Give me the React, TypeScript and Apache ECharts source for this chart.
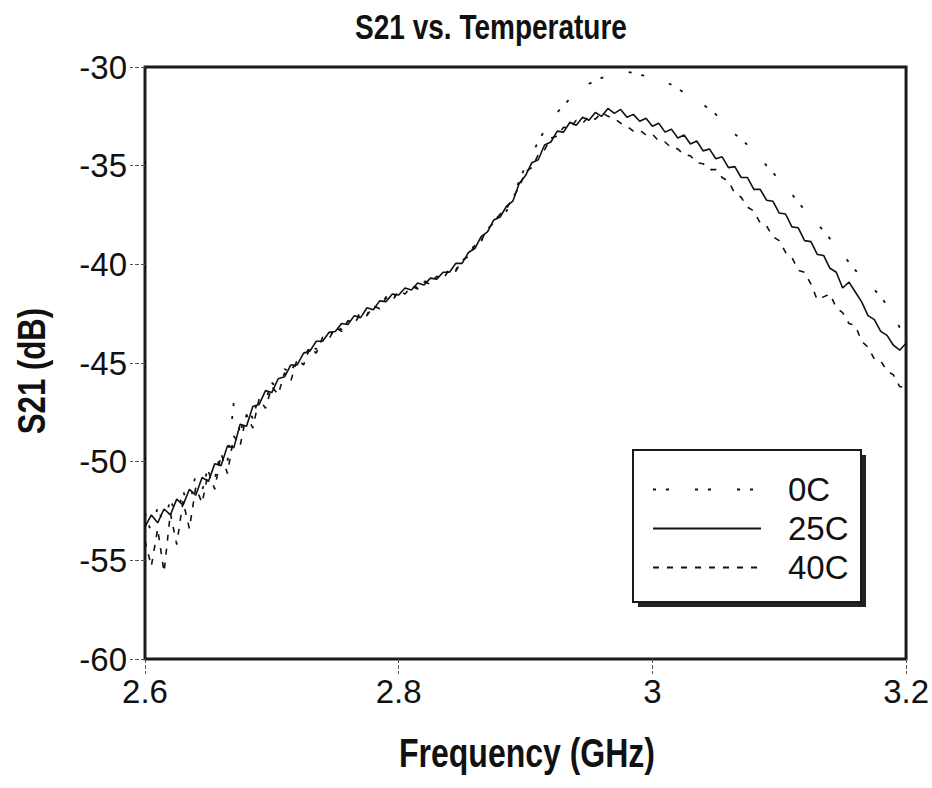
import React, { useEffect, useRef } from "react";
import * as echarts from "echarts";

const TITLE = "S21 vs. Temperature";
const X_NAME = "Frequency (GHz)";
const Y_NAME = "S21 (dB)";
const SERIES_NAMES = ["0C", "25C", "40C"];

const FREQ = [
  2.6, 2.605, 2.61, 2.615, 2.62, 2.625, 2.63, 2.635, 2.64, 2.645,
  2.65, 2.655, 2.66, 2.665, 2.67, 2.675, 2.68, 2.685, 2.69, 2.695,
  2.7, 2.705, 2.71, 2.715, 2.72, 2.725, 2.73, 2.735, 2.74, 2.745,
  2.75, 2.755, 2.76, 2.765, 2.77, 2.775, 2.78, 2.785, 2.79, 2.795,
  2.8, 2.805, 2.81, 2.815, 2.82, 2.825, 2.83, 2.835, 2.84, 2.845,
  2.85, 2.855, 2.86, 2.865, 2.87, 2.875, 2.88, 2.885, 2.89, 2.895,
  2.9, 2.905, 2.91, 2.915, 2.92, 2.925, 2.93, 2.935, 2.94, 2.945,
  2.95, 2.955, 2.96, 2.965, 2.97, 2.975, 2.98, 2.985, 2.99, 2.995,
  3.0, 3.005, 3.01, 3.015, 3.02, 3.025, 3.03, 3.035, 3.04, 3.045,
  3.05, 3.055, 3.06, 3.065, 3.07, 3.075, 3.08, 3.085, 3.09, 3.095,
  3.1, 3.105, 3.11, 3.115, 3.12, 3.125, 3.13, 3.135, 3.14, 3.145,
  3.15, 3.155, 3.16, 3.165, 3.17, 3.175, 3.18, 3.185, 3.19, 3.195,
  3.2,
];

const S21_0C = [
  -52.6, -53.6, -52.3, -53.2, -51.9, -52.8, -51.5, -52.3, -50.6, -51.5,
  -50.2, -50.9, -49.4, -50.0, -47.0, -48.6, -47.3, -47.8, -46.6, -46.9,
  -46.0, -46.3, -45.3, -45.5, -44.7, -44.9, -44.1, -44.3, -43.6, -43.75,
  -43.15, -43.3, -42.75, -42.95, -42.4, -42.55, -42.0, -42.15, -41.65, -41.8,
  -41.3, -41.45, -41.05, -41.2, -40.85, -40.95, -40.55, -40.7, -40.2, -40.3,
  -39.7, -39.65, -38.95, -38.85, -38.1, -38.0, -37.35, -37.3, -36.5, -35.8,
  -35.0, -34.4, -33.8, -33.2, -32.7, -32.3, -31.95, -31.6, -31.3, -31.05,
  -30.85, -30.7, -30.55, -30.45, -30.35, -30.3, -30.25, -30.3, -30.4, -30.45,
  -30.5, -30.6, -30.75, -30.9, -31.1, -31.3, -31.5, -31.7, -31.9, -32.15,
  -32.4, -32.75, -33.1, -33.4, -33.65, -33.95, -34.3, -34.6, -35.0, -35.35,
  -35.7, -36.05, -36.45, -36.85, -37.25, -37.6, -37.95, -38.3, -38.7, -39.1,
  -39.5, -39.9, -40.3, -40.6, -40.95, -41.3, -41.6, -42.1, -42.6, -43.2,
  -43.5,
];

const S21_25C = [
  -53.3, -52.7, -53.1, -52.4, -52.7, -51.9, -52.2, -51.4, -51.7, -50.8,
  -51.0, -50.1, -50.2, -49.2, -49.3, -48.1, -48.2, -47.2, -47.1, -46.4,
  -46.5, -45.8, -45.7, -45.1, -45.1, -44.5, -44.4, -43.9, -43.9, -43.45,
  -43.4, -43.0, -43.05, -42.6, -42.7, -42.2, -42.3, -41.85, -41.9, -41.5,
  -41.55, -41.2, -41.3, -40.95, -41.05, -40.7, -40.75, -40.4, -40.4, -39.95,
  -39.95, -39.4, -39.2, -38.6, -38.35, -37.75, -37.6, -37.05, -36.8, -35.9,
  -35.5, -34.85, -34.7, -33.95, -33.8, -33.25, -33.3, -32.8, -32.95, -32.55,
  -32.7, -32.3, -32.5, -32.1, -32.35, -32.15, -32.55, -32.4, -32.75, -32.6,
  -33.0, -32.85, -33.3, -33.15, -33.6, -33.45, -33.9, -33.75, -34.25, -34.15,
  -34.65, -34.55, -35.1, -35.05, -35.6, -35.6, -36.2, -36.2, -36.75, -36.8,
  -37.4, -37.45, -38.1, -38.15, -38.8, -38.85, -39.5, -39.55, -40.2, -40.4,
  -41.2, -40.9, -41.4, -41.9, -42.6, -42.8, -43.4, -43.6, -44.1, -44.35,
  -44.0,
];

const S21_40C = [
  -54.0, -55.3, -53.4, -55.6, -52.6, -54.2, -52.0, -53.4, -51.3, -52.1,
  -50.5, -51.4, -49.6, -50.6, -48.7, -49.2, -47.6, -48.3, -46.8, -47.3,
  -46.2, -46.6, -45.5, -45.9, -44.8, -45.1, -44.2, -44.5, -43.7, -43.8,
  -43.2, -43.4, -42.85, -43.0, -42.5, -42.6, -42.1, -42.25, -41.7, -41.85,
  -41.35, -41.5, -41.1, -41.25, -40.9, -41.0, -40.6, -40.75, -40.25, -40.35,
  -39.8, -39.6, -39.05, -38.8, -38.2, -37.9, -37.45, -37.2, -36.6, -36.1,
  -35.3, -35.1, -34.45, -34.2, -33.6, -33.5, -33.05, -33.1, -32.7, -32.85,
  -32.5, -32.65, -32.3, -32.5, -32.6, -32.85, -33.0, -33.25, -33.2, -33.45,
  -33.4, -33.75, -33.8, -34.1, -34.15, -34.45, -34.5, -34.85, -34.9, -35.2,
  -35.2, -35.6, -35.8, -36.4, -36.6, -37.1, -37.3, -37.9, -38.05, -38.6,
  -38.8, -39.4, -39.65, -40.3, -40.4, -41.0, -41.8, -41.65, -41.5, -42.2,
  -42.45, -43.0, -43.1, -43.9, -44.2, -44.8, -44.9, -45.4, -45.6, -46.2,
  -46.2,
];

const X_MIN = 2.6;
const X_MAX = 3.2;
const X_STEP = 0.2;
const Y_MIN = -60;
const Y_MAX = -30;
const Y_STEP = 5;

const FONT = '"Liberation Sans", Arial, sans-serif';

function pairs(ys: number[]) {
  return FREQ.map((f, i) => [f, ys[i]]);
}

export default function App() {
  const ref = useRef<HTMLDivElement>(null);
  useEffect(() => {
    if (!ref.current) return;
    const chart = echarts.init(ref.current, undefined, { renderer: "svg" });
    const black = "#111";
    chart.setOption({
      animation: false,
      backgroundColor: "#fff",
      grid: {
        left: 145,
        right: 25,
        top: 67,
        bottom: 129,
        show: true,
        borderColor: "#1a1a1a",
        borderWidth: 3,
        backgroundColor: "transparent",
      },
      graphic: [
        {
          type: "text",
          x: 491,
          y: 27,
          scaleX: 0.8,
          style: {
            text: TITLE,
            textAlign: "center",
            textVerticalAlign: "middle",
            font: `bold 35px ${FONT}`,
            fill: black,
          },
        },
        {
          type: "text",
          x: 527,
          y: 753,
          scaleX: 0.8,
          style: {
            text: X_NAME,
            textAlign: "center",
            textVerticalAlign: "middle",
            font: `bold 40px ${FONT}`,
            fill: black,
          },
        },
        {
          type: "text",
          x: 31,
          y: 371,
          rotation: Math.PI / 2,
          scaleX: 0.8,
          style: {
            text: Y_NAME,
            textAlign: "center",
            textVerticalAlign: "middle",
            font: `bold 39px ${FONT}`,
            fill: black,
          },
        },
        {
          type: "rect",
          z: 3,
          shape: { x: 638, y: 455, width: 228, height: 152 },
          style: { fill: "#222" },
        },
        {
          type: "rect",
          z: 4,
          shape: { x: 633, y: 450, width: 228, height: 152 },
          style: { fill: "#fff", stroke: "#1a1a1a", lineWidth: 2 },
        },
      ],
      legend: {
        data: SERIES_NAMES,
        orient: "vertical",
        left: 652,
        top: 473,
        itemWidth: 108,
        itemHeight: 14,
        itemGap: 6,
        padding: 0,
        z: 6,
        itemStyle: { opacity: 0, borderWidth: 0 },
        textStyle: {
          fontFamily: FONT,
          fontSize: 33,
          color: black,
          padding: [0, 0, 0, 22],
        },
      },
      xAxis: {
        type: "value",
        min: X_MIN,
        max: X_MAX,
        interval: X_STEP,
        axisLine: { show: false },
        axisTick: { show: true, length: 15, lineStyle: { color: "#555", width: 1, type: "dashed" } },
        axisLabel: {
          margin: 16,
          fontFamily: FONT,
          fontSize: 33,
          color: black,
          showMinLabel: true,
          showMaxLabel: true,
          formatter: (v: number) => String(Math.round(v * 10) / 10),
        },
        splitLine: { show: false },
      },
      yAxis: {
        type: "value",
        min: Y_MIN,
        max: Y_MAX,
        interval: Y_STEP,
        axisLine: { show: false },
        axisTick: { show: true, length: 15, lineStyle: { color: "#555", width: 1, type: "dashed" } },
        axisLabel: {
          margin: 18,
          fontFamily: FONT,
          fontSize: 33,
          color: black,
          showMinLabel: true,
          showMaxLabel: true,
        },
        splitLine: { show: false },
      },
      series: [
        {
          name: SERIES_NAMES[0],
          type: "line",
          data: pairs(S21_0C),
          showSymbol: false,
          symbol: "none",
          lineStyle: { color: black, width: 1.8, type: [3, 10, 3, 26] },
          itemStyle: { color: black },
          z: 2,
        },
        {
          name: SERIES_NAMES[1],
          type: "line",
          data: pairs(S21_25C),
          showSymbol: false,
          symbol: "none",
          lineStyle: { color: black, width: 1.6, type: "solid" },
          itemStyle: { color: black },
          z: 2,
        },
        {
          name: SERIES_NAMES[2],
          type: "line",
          data: pairs(S21_40C),
          showSymbol: false,
          symbol: "none",
          lineStyle: { color: black, width: 1.6, type: [6, 8] },
          itemStyle: { color: black },
          z: 2,
        },
      ],
    });
    return () => chart.dispose();
  }, []);
  return (
    <div
      ref={ref}
      style={{ position: "absolute", left: 0, top: 0, width: 932, height: 788, background: "#fff" }}
    />
  );
}
